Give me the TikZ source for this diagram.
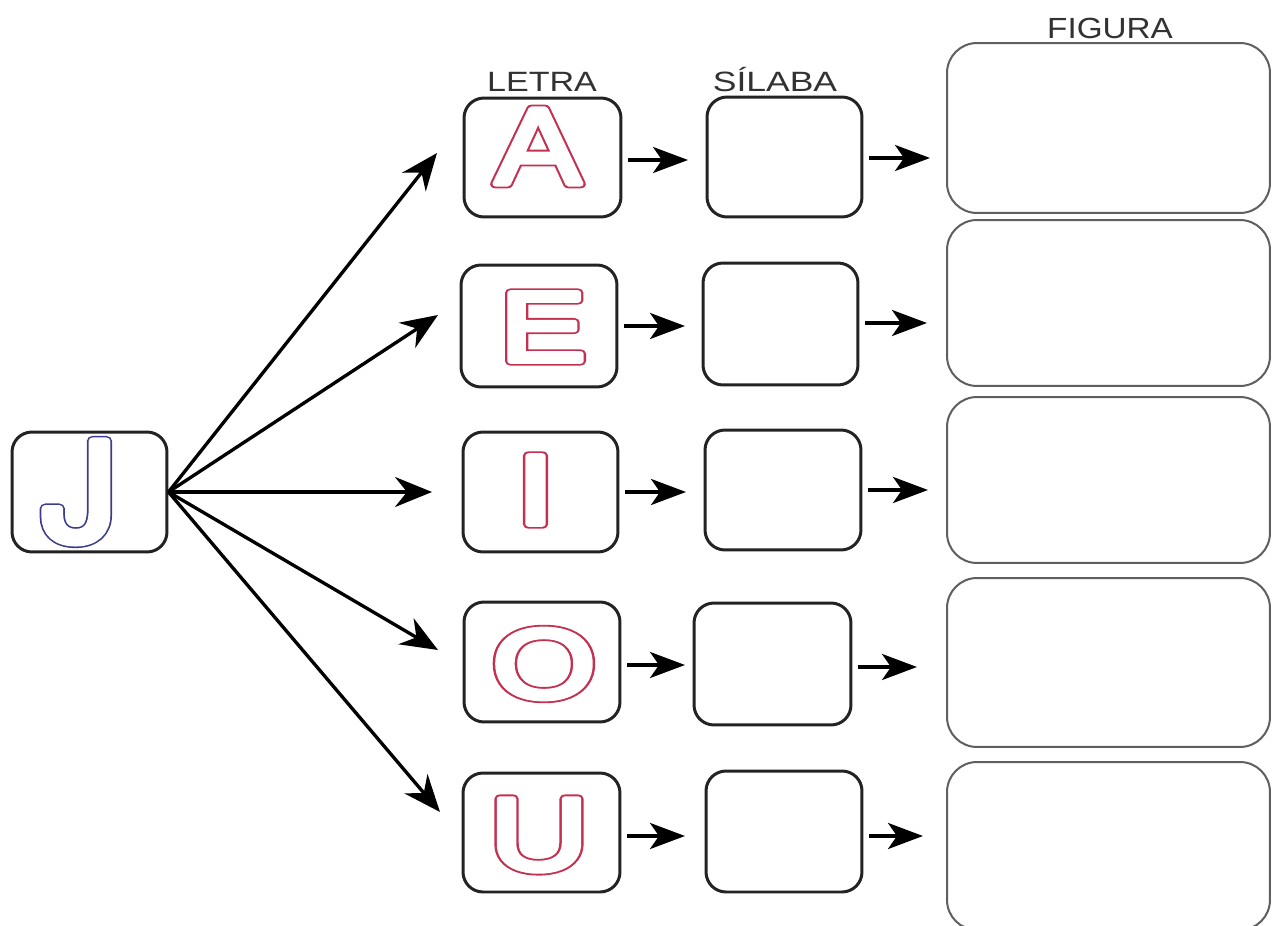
\documentclass[tikz,border=0pt]{standalone}
\usepackage{fontspec}
\setmainfont{Liberation Sans}
\newfontfamily\jfont{TeX Gyre Heros}
\usepackage{graphicx}
\usetikzlibrary{arrows.meta}
\definecolor{letred}{RGB}{196,48,80}
\definecolor{jblue}{RGB}{60,60,140}
\definecolor{boxline}{RGB}{35,35,35}
\definecolor{figline}{RGB}{95,95,95}
\definecolor{labelgray}{RGB}{50,50,50}
% rounded hollow glyph: a wide coloured stroke, then a narrower white stroke on top
% #1 stroke colour as "r g b", #2 outer pen width, #3 inner pen width, #4 xscale, #5 glyph
\newcommand{\strokelayer}[4]{%
  \makebox[0pt]{\scalebox{#3}[1]{\color{white}\special{pdf:literal direct #1 RG #2 w 1 j 1 J 2 Tr}#4\special{pdf:literal direct 0 Tr}}}}
\newcommand{\hollowglyph}[5]{%
  \strokelayer{#1}{#2}{#4}{#5}\strokelayer{1 1 1}{#3}{#4}{#5}}
\newcommand{\lbl}[2]{\scalebox{#1}[1]{#2}}
\begin{document}
\begin{tikzpicture}[x=0.02cm,y=-0.02cm,
  lbox/.style={draw=boxline, line width=1.7pt, rounded corners=0.4cm, inner sep=0pt,
               minimum width=3.12cm, minimum height=2.4cm},
  fbox/.style={draw=figline, line width=1.15pt, rounded corners=0.6cm, inner sep=0pt,
               minimum width=6.46cm},
  glyph/.style={inner sep=0pt, anchor=center},
  toplabel/.style={inner sep=0pt, anchor=base, text=labelgray, font=\fontsize{15.9pt}{18pt}\selectfont},
  barr/.style={line width=1.9pt, draw=black, -{Stealth[length=0.74cm,width=0.6cm,inset=0.24cm]}},
  sarr/.style={line width=1.9pt, draw=black, shorten <=0.12cm, -{Stealth[length=0.7cm,width=0.52cm,inset=0.18cm]}}
]
\useasboundingbox (0,0) rectangle (1272,926);

% J box
\node[lbox, minimum width=3.1cm] (J) at (89.5,492) {};
\node[glyph, font=\jfont\fontsize{77.7pt}{80pt}\selectfont] (gJ) at (80,492) {\hollowglyph{0.235 0.235 0.549}{5.8}{4.0}{1.1}{J}};

% letter boxes
\node[lbox, minimum width=3.14cm, minimum height=2.38cm] (A) at (542.5,157.5) {};
\node[lbox, minimum width=3.12cm, minimum height=2.44cm] (E) at (539,326) {};
\node[lbox, minimum width=3.1cm] (I) at (540.5,492) {};
\node[lbox, minimum width=3.12cm] (O) at (542,662) {};
\node[lbox, minimum width=3.14cm, minimum height=2.38cm] (U) at (541.5,832.5) {};

\node[glyph, font=\fontsize{62pt}{64pt}\selectfont] (gA) at (538,146.5) {\hollowglyph{0.769 0.188 0.314}{5.0}{2.9}{1.18}{A}};
\node[glyph, font=\fontsize{56.7pt}{60pt}\selectfont] (gE) at (543,327) {\hollowglyph{0.769 0.188 0.314}{5.0}{2.9}{1.29}{E}};
\node[glyph, font=\fontsize{56.7pt}{60pt}\selectfont] (gI) at (535.5,490) {\hollowglyph{0.769 0.188 0.314}{5.0}{2.9}{1.4}{I}};
\node[glyph, font=\fontsize{56pt}{60pt}\selectfont] (gO) at (544,664) {\hollowglyph{0.769 0.188 0.314}{5.0}{2.9}{1.35}{O}};
\node[glyph, font=\fontsize{59pt}{62pt}\selectfont] (gU) at (539,835) {\hollowglyph{0.769 0.188 0.314}{5.0}{2.9}{1.32}{U}};

% syllable boxes
\node[lbox, minimum width=3.1cm] (S1) at (784.5,157) {};
\node[lbox, minimum width=3.1cm, minimum height=2.44cm] (S2) at (780.5,324) {};
\node[lbox] (S3) at (783,490) {};
\node[lbox, minimum width=3.14cm, minimum height=2.44cm] (S4) at (772.5,664) {};
\node[lbox, minimum height=2.42cm] (S5) at (784,831.5) {};

% figure boxes
\node[fbox, minimum height=3.4cm] (F1) at (1108.5,128) {};
\node[fbox, minimum height=3.32cm] (F2) at (1108.5,303) {};
\node[fbox, minimum height=3.32cm] (F3) at (1108.5,480) {};
\node[fbox, minimum height=3.38cm] (F4) at (1108.5,662.5) {};
\node[fbox, minimum height=3.36cm] (F5) at (1108.5,846) {};

% labels
\node[toplabel] (lLetra) at (542,92) {\lbl{1.22}{LETRA}};
\node[toplabel] (lSilaba) at (775,92) {\lbl{1.27}{SÍLABA}};
\node[toplabel, font=\fontsize{16.6pt}{19pt}\selectfont] (lFigura) at (1110,39) {\lbl{1.14}{FIGURA}};

% arrow ends
\coordinate (tA) at (437,153);
\coordinate (tE) at (438,315);
\coordinate (tI) at (432,492);
\coordinate (tO) at (438,650);
\coordinate (tU) at (440,812);

\coordinate (a1) at (688,160);
\coordinate (a2) at (685,326);
\coordinate (a3) at (686,492);
\coordinate (a4) at (685,665);
\coordinate (a5) at (685,836);

\coordinate (b1) at (930,158);
\coordinate (b2) at (927,323);
\coordinate (b3) at (928,490);
\coordinate (b4) at (917,667);
\coordinate (b5) at (923,836);

% big arrows from J
\draw[barr] (J.east) -- (tA);
\draw[barr] (J.east) -- (tE);
\draw[barr] (J.east) -- (tI);
\draw[barr] (J.east) -- (tO);
\draw[barr] (J.east) -- (tU);

% letter -> syllable
\draw[sarr] (A.east |- a1) -- (a1);
\draw[sarr] (E.east |- a2) -- (a2);
\draw[sarr] (I.east |- a3) -- (a3);
\draw[sarr] (O.east |- a4) -- (a4);
\draw[sarr] (U.east |- a5) -- (a5);

% syllable -> figure
\draw[sarr] (S1.east |- b1) -- (b1);
\draw[sarr] (S2.east |- b2) -- (b2);
\draw[sarr] (S3.east |- b3) -- (b3);
\draw[sarr] (S4.east |- b4) -- (b4);
\draw[sarr] (S5.east |- b5) -- (b5);
\end{tikzpicture}
\end{document}
